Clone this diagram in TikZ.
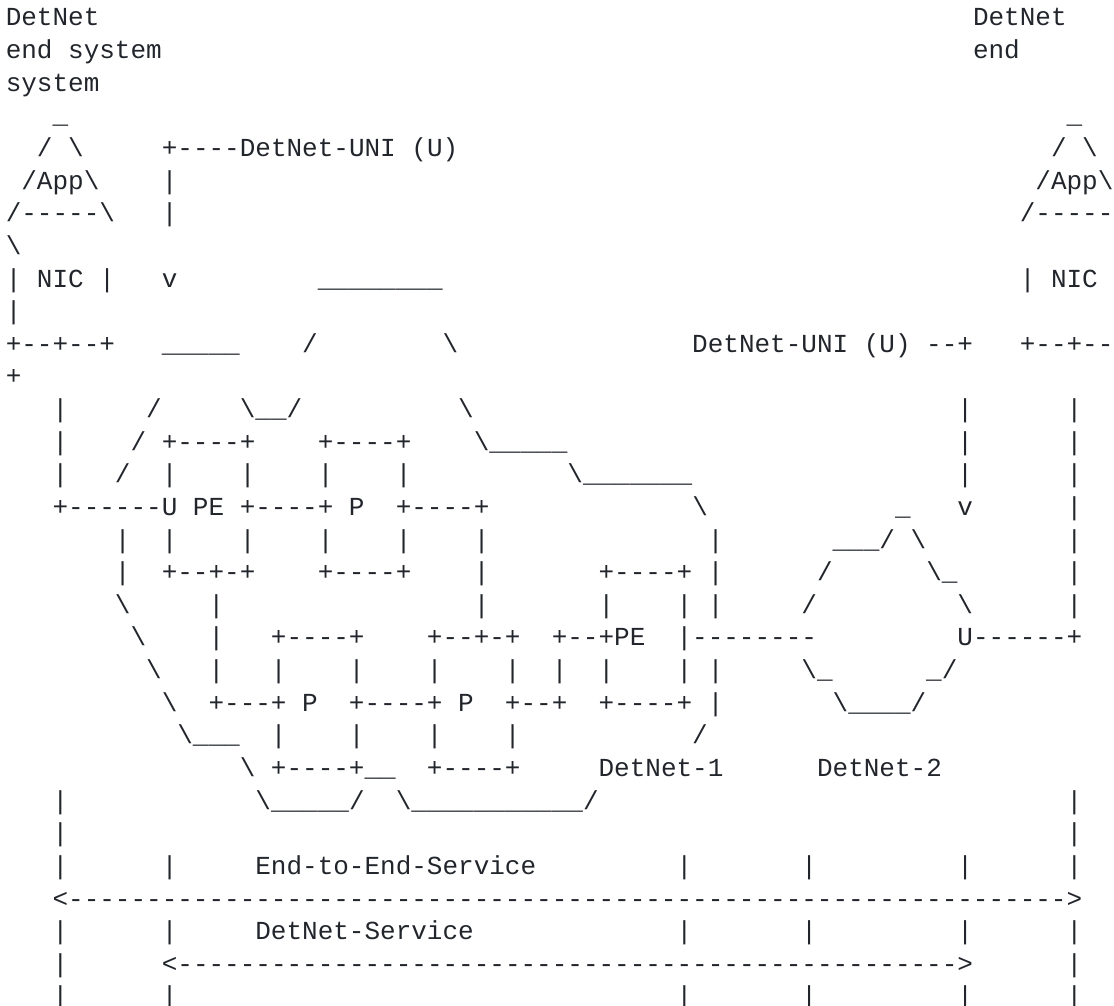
\documentclass[tikz,border=0pt]{standalone}
\usepackage{fontspec}
\usetikzlibrary{positioning}
\newfontfamily\asciifont{Liberation Mono}
\definecolor{ink}{RGB}{34,38,44}
\newcommand{\rowgap}{32.63pt}
{\obeyspaces\gdef\asciikeys{\obeyspaces\def {\kern15.6pt}\catcode`\_=12\relax\catcode`\\=12\relax}}

\begin{document}
\begin{tikzpicture}[
    asciirow/.style={rectangle, inner sep=0pt, outer sep=0pt, anchor=base west, text=ink, font=\asciifont\fontsize{26}{32}\selectfont\asciikeys}
]
\useasboundingbox (0pt,0pt) rectangle (1114pt,-1006pt);

% ========== END SYSTEM LABELS ==========
\node[asciirow] (r01) at (5.8pt,-26pt) {DetNet                                                        DetNet};
\node[below=\rowgap of r01.base west, asciirow] (r02) {end system                                                    end};
\node[below=\rowgap of r02.base west, asciirow] (r03) {system};

% ========== APP AND NIC STACKS ==========
\node[below=\rowgap of r03.base west, asciirow] (r04) {   _                                                                _};
\node[below=\rowgap of r04.base west, asciirow] (r05) {  / \     +----DetNet-UNI (U)                                      / \};
\node[below=\rowgap of r05.base west, asciirow] (r06) { /App\    |                                                       /App\};
\node[below=\rowgap of r06.base west, asciirow] (r07) {/-----\   |                                                      /-----};
\node[below=\rowgap of r07.base west, asciirow] (r08) {\};
\node[below=\rowgap of r08.base west, asciirow] (r09) {| NIC |   v         ________                                     | NIC};
\node[below=\rowgap of r09.base west, asciirow] (r10) {|};
\node[below=\rowgap of r10.base west, asciirow] (r11) {+--+--+   _____    /        \               DetNet-UNI (U) --+   +--+--};
\node[below=\rowgap of r11.base west, asciirow] (r12) {+};

% ========== DETNET-1 AND DETNET-2 ==========
\node[below=\rowgap of r12.base west, asciirow] (r13) {   |     /     \__/          \                               |      |};
\node[below=\rowgap of r13.base west, asciirow] (r14) {   |    / +----+    +----+    \_____                         |      |};
\node[below=\rowgap of r14.base west, asciirow] (r15) {   |   /  |    |    |    |          \_______                 |      |};
\node[below=\rowgap of r15.base west, asciirow] (r16) {   +------U PE +----+ P  +----+             \            _   v      |};
\node[below=\rowgap of r16.base west, asciirow] (r17) {       |  |    |    |    |    |              |       ___/ \         |};
\node[below=\rowgap of r17.base west, asciirow] (r18) {       |  +--+-+    +----+    |       +----+ |      /      \_       |};
\node[below=\rowgap of r18.base west, asciirow] (r19) {       \     |                |       |    | |     /         \      |};
\node[below=\rowgap of r19.base west, asciirow] (r20) {        \    |   +----+    +--+-+  +--+PE  |--------         U------+};
\node[below=\rowgap of r20.base west, asciirow] (r21) {         \   |   |    |    |    |  |  |    | |     \_      _/};
\node[below=\rowgap of r21.base west, asciirow] (r22) {          \  +---+ P  +----+ P  +--+  +----+ |       \____/};
\node[below=\rowgap of r22.base west, asciirow] (r23) {           \___  |    |    |    |           /};
\node[below=\rowgap of r23.base west, asciirow] (r24) {               \ +----+__  +----+     DetNet-1      DetNet-2};
\node[below=\rowgap of r24.base west, asciirow] (r25) {   |            \_____/  \___________/                              |};
\node[below=\rowgap of r25.base west, asciirow] (r26) {   |                                                                |};

% ========== SERVICES ==========
\node[below=\rowgap of r26.base west, asciirow] (r27) {   |      |     End-to-End-Service         |       |         |      |};
\node[below=\rowgap of r27.base west, asciirow] (r28) {   <---------------------------------------------------------------->};
\node[below=\rowgap of r28.base west, asciirow] (r29) {   |      |     DetNet-Service             |       |         |      |};
\node[below=\rowgap of r29.base west, asciirow] (r30) {   |      <-------------------------------------------------->      |};
\node[below=\rowgap of r30.base west, asciirow] (r31) {   |      |                                |       |         |      |};

\end{tikzpicture}
\end{document}
